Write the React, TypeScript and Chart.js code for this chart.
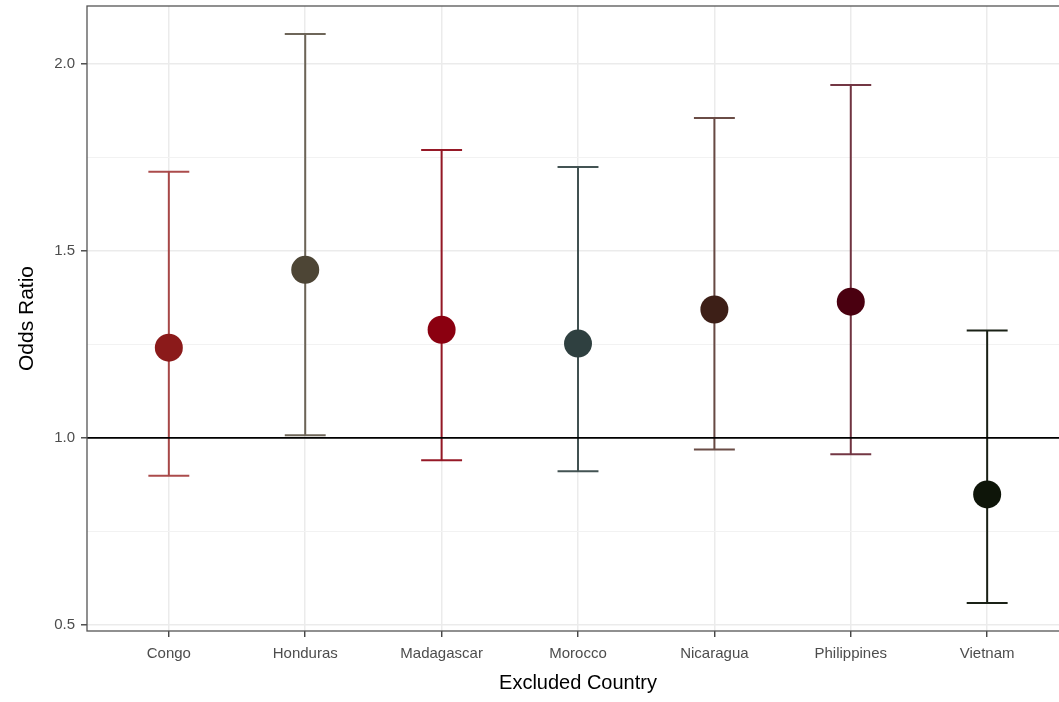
import React, { useEffect, useRef } from "react";
import { Chart, registerables } from "chart.js";

Chart.register(...registerables);

const countries = ["Congo", "Honduras", "Madagascar", "Morocco", "Nicaragua", "Philippines", "Vietnam"];
const oddsRatio = [1.241, 1.449, 1.289, 1.252, 1.343, 1.364, 0.849];
const lowerCI = [0.899, 1.007, 0.94, 0.911, 0.969, 0.956, 0.559];
const upperCI = [1.711, 2.079, 1.769, 1.724, 1.855, 1.943, 1.287];
const pointColors = ["#8B1A1A", "#4D4535", "#8B0010", "#2F4040", "#3D1F17", "#4A0010", "#0E1509"];
const barColors = [
  "rgba(150,30,30,0.8)",
  "rgba(85,75,60,0.85)",
  "rgba(139,0,16,0.9)",
  "rgba(47,64,64,0.9)",
  "rgba(80,45,38,0.85)",
  "rgba(90,20,35,0.85)",
  "rgba(14,21,9,0.95)",
];
const yMajorTicks = [0.5, 1.0, 1.5, 2.0];
const yMinorTicks = [0.75, 1.25, 1.75];
const referenceLine = 1.0;
const capHalfWidth = 0.15;

const FONT = "'Liberation Sans', Arial, Helvetica, sans-serif";

const errorBarPlugin = {
  id: "errorBars",
  beforeDatasetsDraw(chart: any) {
    const { ctx, scales, chartArea } = chart;
    const xs = scales.x;
    const ys = scales.y;
    ctx.save();
    ctx.beginPath();
    ctx.rect(chartArea.left, chartArea.top, chartArea.right - chartArea.left, chartArea.bottom - chartArea.top);
    ctx.clip();
    countries.forEach((_, i) => {
      const xv = i + 1;
      const x = xs.getPixelForValue(xv);
      const xl = xs.getPixelForValue(xv - capHalfWidth);
      const xr = xs.getPixelForValue(xv + capHalfWidth);
      const yl = ys.getPixelForValue(lowerCI[i]);
      const yu = ys.getPixelForValue(upperCI[i]);
      ctx.strokeStyle = barColors[i];
      ctx.lineWidth = 2;
      ctx.beginPath();
      ctx.moveTo(x, yl);
      ctx.lineTo(x, yu);
      ctx.moveTo(xl, yl);
      ctx.lineTo(xr, yl);
      ctx.moveTo(xl, yu);
      ctx.lineTo(xr, yu);
      ctx.stroke();
    });
    const yr = ys.getPixelForValue(referenceLine);
    ctx.strokeStyle = "#000000";
    ctx.lineWidth = 1.6;
    ctx.beginPath();
    ctx.moveTo(chartArea.left, yr);
    ctx.lineTo(chartArea.right, yr);
    ctx.stroke();
    ctx.restore();
  },
  afterDraw(chart: any) {
    const { ctx, chartArea } = chart;
    ctx.save();
    ctx.strokeStyle = "#555555";
    ctx.lineWidth = 1.3;
    ctx.strokeRect(chartArea.left, chartArea.top, chartArea.right - chartArea.left, chartArea.bottom - chartArea.top);
    ctx.restore();
  },
};

export default function App() {
  const ref = useRef<HTMLCanvasElement | null>(null);
  useEffect(() => {
    if (!ref.current) return;
    const data = countries.map((_, i) => ({ x: i + 1, y: oddsRatio[i] }));
    const chart = new Chart(ref.current, {
      type: "scatter",
      data: {
        datasets: [
          {
            data,
            pointRadius: 14,
            pointHoverRadius: 14,
            pointBorderWidth: 0,
            pointBackgroundColor: pointColors,
            pointBorderColor: pointColors,
          },
        ],
      },
      plugins: [errorBarPlugin],
      options: {
        animation: false,
        responsive: false,
        devicePixelRatio: 1,
        layout: { autoPadding: false, padding: { left: 0, top: 6, right: 3, bottom: 0 } },
        plugins: { legend: { display: false }, tooltip: { enabled: false } },
        scales: {
          x: {
            type: "linear",
            min: 0.4,
            max: 7.6,
            afterBuildTicks: (scale: any) => {
              scale.ticks = countries.map((_, i) => ({ value: i + 1 }));
            },
            afterFit: (scale: any) => {
              scale.height = 71;
              scale.paddingLeft = 0;
              scale.paddingRight = 0;
            },
            ticks: {
              autoSkip: false,
              maxRotation: 0,
              padding: 8,
              color: "#4D4D4D",
              font: { family: FONT, size: 15 },
              callback: (v: any) => countries[Math.round(Number(v)) - 1] ?? "",
            },
            grid: {
              color: "#EBEBEB",
              lineWidth: 1.5,
              drawTicks: true,
              tickLength: 6,
              tickColor: "#333333",
              tickWidth: 1.3,
            },
            border: { display: false },
            title: {
              display: true,
              text: "Excluded Country",
              color: "#000000",
              font: { family: FONT, size: 20 },
              padding: { top: 0, bottom: 7 },
            },
          },
          y: {
            type: "linear",
            min: 0.484,
            max: 2.154,
            afterBuildTicks: (scale: any) => {
              scale.ticks = [...yMajorTicks, ...yMinorTicks]
                .sort((a, b) => a - b)
                .map((v) => ({ value: v }));
            },
            afterFit: (scale: any) => {
              scale.width = 87;
              scale.paddingTop = 0;
              scale.paddingBottom = 0;
            },
            ticks: {
              autoSkip: false,
              padding: 6,
              color: "#4D4D4D",
              font: { family: FONT, size: 15 },
              callback: (v: any) => (yMajorTicks.includes(Number(v)) ? Number(v).toFixed(1) : ""),
            },
            grid: {
              color: (c: any) => (yMajorTicks.includes(c.tick?.value) ? "#EBEBEB" : "#F2F2F2"),
              lineWidth: (c: any) => (yMajorTicks.includes(c.tick?.value) ? 1.6 : 1),
              drawTicks: true,
              tickLength: 6,
              tickColor: (c: any) => (yMajorTicks.includes(c.tick?.value) ? "#333333" : "rgba(0,0,0,0)"),
              tickWidth: 1.3,
            },
            border: { display: false },
            title: {
              display: true,
              text: "Odds Ratio",
              color: "#000000",
              font: { family: FONT, size: 21 },
              padding: { top: 15, bottom: 0 },
            },
          },
        },
      },
    });
    return () => chart.destroy();
  }, []);
  return (
    <div style={{ position: "fixed", left: 0, top: 0, width: 1059, height: 702, overflow: "hidden", background: "#fff" }}>
      <canvas ref={ref} width={1072} height={702} style={{ display: "block" }} />
    </div>
  );
}
